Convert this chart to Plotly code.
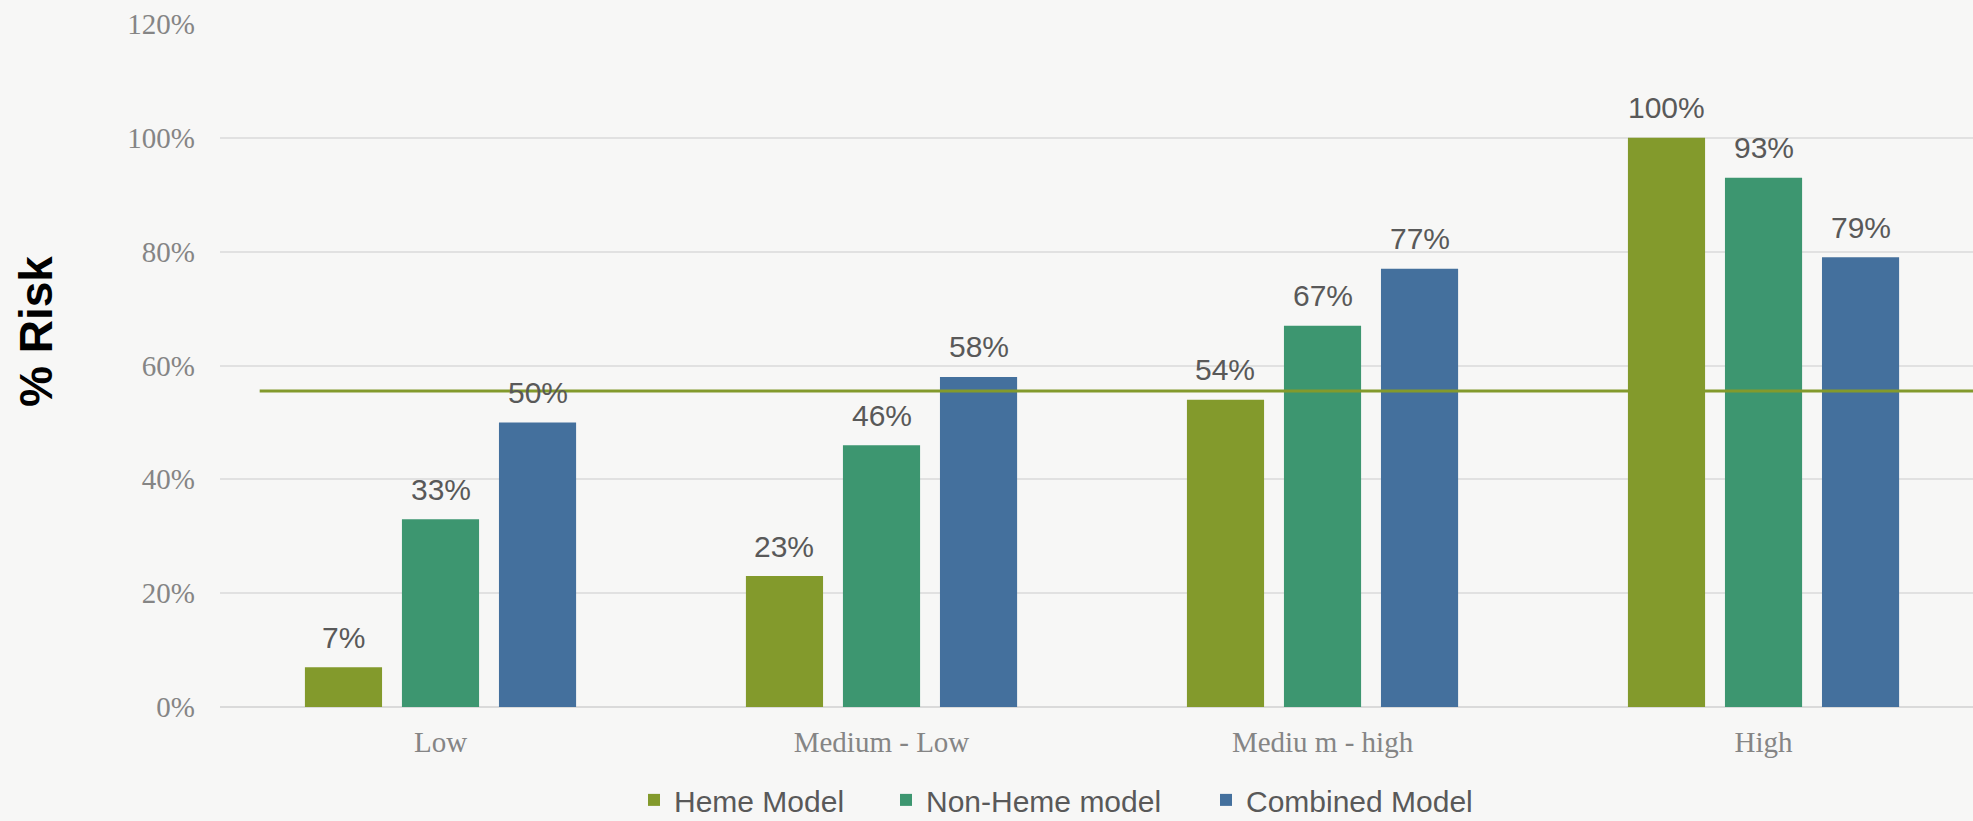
import plotly.graph_objects as go

# Risk categories and the share of patients flagged by each model
categories = ["Low", "Medium - Low", "Mediu m - high", "High"]
heme_model = [0.07, 0.23, 0.54, 1.00]
non_heme_model = [0.33, 0.46, 0.67, 0.93]
combined_model = [0.50, 0.58, 0.77, 0.79]
series_names = ["Heme Model", "Non-Heme model", "Combined Model"]
reference_level = 0.555

y_ticks = [0, 0.2, 0.4, 0.6, 0.8, 1.0, 1.2]

colors = ["#839A2C", "#3D9670", "#44709D"]
label_font = dict(family="Liberation Sans, Arial, sans-serif", size=30, color="#595959")
serif_font = dict(family="Liberation Serif, Times New Roman, serif", size=29, color="#858585")

# Figure geometry
W, H = 1973, 821
margin = dict(l=220, r=0, t=24, b=114, autoexpand=False)
x_range = [-0.5, 3.475]
bargap, bargroupgap = 0.34, 0.205
plot_w = W - margin["l"] - margin["r"]
plot_h = H - margin["t"] - margin["b"]
px_per_cat = plot_w / (x_range[1] - x_range[0])
slot_px = (1 - bargap) / 3 * px_per_cat  # distance between neighbouring bars in a group

all_series = [heme_model, non_heme_model, combined_model]

fig = go.Figure()
legend_ids = ["legend", "legend2", "legend3"]
for name, values, color, lg in zip(series_names, all_series, colors, legend_ids):
    fig.add_trace(go.Bar(
        name=name,
        x=categories,
        y=values,
        marker=dict(color=color, line=dict(width=0)),
        legend=lg,
        showlegend=True,
    ))

# Value labels above each bar
annotations = []
for k, values in enumerate(all_series):
    for cat, v in zip(categories, values):
        annotations.append(dict(
            x=cat, y=v, xref="x", yref="y",
            text=f"{v:.0%}", showarrow=False,
            xanchor="center", yanchor="middle",
            xshift=(k - 1) * slot_px, yshift=30,
            font=label_font,
        ))

annotations.append(dict(
    text="<b>% Risk</b>", textangle=-90,
    xref="paper", yref="paper",
    x=(36 - margin["l"]) / plot_w, y=(H - margin["b"] - 332) / plot_h,
    xanchor="center", yanchor="middle", showarrow=False,
    font=dict(family="Liberation Sans, Arial, sans-serif", size=46, color="#000000"),
))

# Horizontal reference level across the chart
fig.add_shape(type="line", xref="x", yref="y",
              x0=-0.41, x1=3.6, y0=reference_level, y1=reference_level,
              line=dict(color="#839A2C", width=3), layer="above")

legend_common = dict(orientation="h", yanchor="middle", xanchor="left",
                     font=label_font, bgcolor="rgba(0,0,0,0)",
                     itemclick=False, y=-0.136)
fig.update_layout(
    width=W, height=H,
    margin=margin,
    showlegend=True,
    paper_bgcolor="#F7F7F6",
    plot_bgcolor="#F7F7F6",
    barmode="group",
    bargap=bargap,
    bargroupgap=bargroupgap,
    legend=dict(x=(634 - margin["l"]) / plot_w, **legend_common),
    legend2=dict(x=(886 - margin["l"]) / plot_w, **legend_common),
    legend3=dict(x=(1206 - margin["l"]) / plot_w, **legend_common),
    xaxis=dict(
        type="category",
        range=x_range,
        showgrid=False,
        showline=False,
        zeroline=False,
        ticks="",
        tickfont=serif_font,
        ticklabelstandoff=15,
    ),
    yaxis=dict(
        range=[0, 1.2],
        tickvals=y_ticks,
        tickformat=".0%",
        showgrid=True,
        gridcolor="#E1E1E1",
        gridwidth=2,
        zeroline=True,
        zerolinecolor="#DADADA",
        zerolinewidth=2,
        ticks="",
        tickfont=serif_font,
        ticklabelstandoff=24,
    ),
    annotations=annotations,
)

fig.write_html("out.html")
